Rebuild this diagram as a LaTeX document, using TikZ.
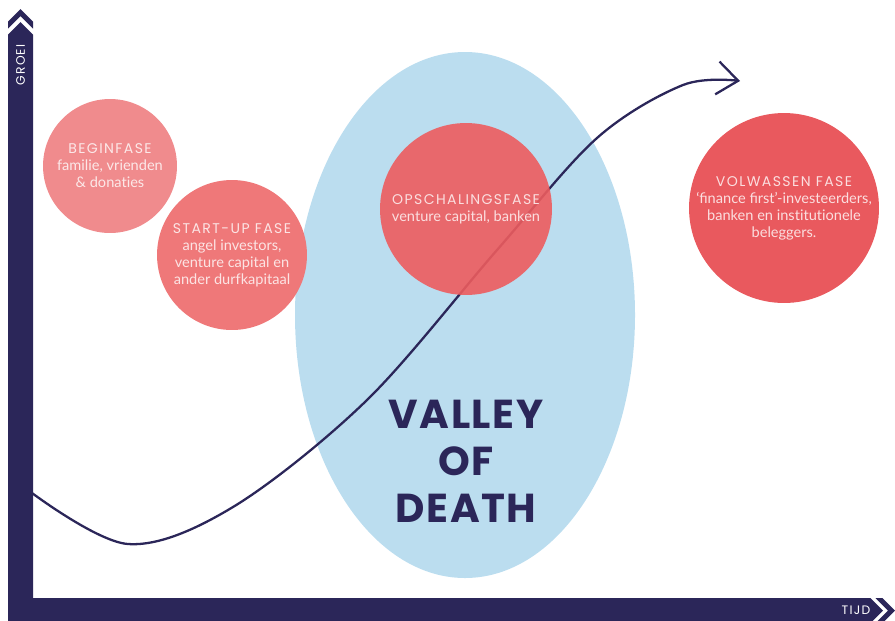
\documentclass[tikz,border=0pt]{standalone}
\usepackage{fontspec}
\setmainfont[Ligatures=NoCommon]{Lato}
\newfontfamily\capsfont[LetterSpace=10]{Poppins}
\newfontfamily\valleyfont[LetterSpace=4]{Poppins}
\usepackage{tikz}
\usetikzlibrary{arrows.meta, positioning}

\definecolor{navy}{RGB}{43,38,89}
\definecolor{valleyblue}{RGB}{187,221,239}
\definecolor{beginpink}{RGB}{240,139,141}
\definecolor{startpink}{RGB}{239,120,121}
\definecolor{scalered}{RGB}{237,92,94}
\definecolor{maturered}{RGB}{233,89,94}

\newcommand\phasetitle[1]{{\capsfont\fontsize{8}{9.7}\selectfont #1}}

\begin{document}
\begin{tikzpicture}[x=0.02cm, y=-0.02cm,
    phase/.style={circle, inner sep=0pt, align=center, fill=#1, text=white!80!#1,
      font=\fontsize{8.3}{9.7}\selectfont},
    axislabel/.style={text=white, font=\capsfont\fontsize{7}{8}\selectfont},
    growth/.style={navy, line width=1.3pt, -{Straight Barb[length=0.42cm, width=0.66cm]}}]
    \useasboundingbox (0,0) rectangle (895,620);
    \clip (0,0) rectangle (895,620);

    % Valley of death
    \fill[valleyblue] (465,315) ellipse [x radius=170, y radius=263];
    \node[text=navy, align=center, font=\valleyfont\bfseries\fontsize{23}{26.7}\selectfont]
      (valley) at (466,461) {VALLEY\\OF\\DEATH};

    % Early phases
    \node[phase=beginpink, minimum size=2.68cm] (begin) at (110,166)
      {\phasetitle{BEGINFASE}\\familie, vrienden\\\& donaties};
    \node[phase=startpink, minimum size=3cm] (startup) at (232,255)
      {\phasetitle{START-UP FASE}\\angel investors,\\venture capital en\\ander durfkapitaal};

    % Growth curve
    \coordinate (c0) at (32,493);
    \coordinate (c7) at (740,81);
    \draw[growth] plot[smooth, tension=0.55] coordinates
      {(c0) (128,544) (233,507) (367,400) (497,250) (597,138) (683,85) (c7)};

    % Later phases
    \node[phase=scalered, fill opacity=0.9, text opacity=1, minimum size=3.44cm] (scaleup) at (466,209)
      {\phasetitle{OPSCHALINGSFASE}\\venture capital, banken};
    \node[phase=maturered, minimum size=3.8cm] (mature) at (784,208)
      {\phasetitle{VOLWASSEN FASE}\\‘ﬁnance ﬁrst’-investeerders,\\banken en institutionele\\beleggers.};

    % Axes
    \fill[navy] (8,623) -- (8,34.5) -- (20.5,22) -- (33,34.5) -- (33,598)
      -- (870.5,598) -- (883,610.5) -- (870.5,623) -- cycle;
    \fill[navy] (8,21.5) -- (20.5,9) -- (33,21.5) -- (33,28.5) -- (20.5,16) -- (8,28.5) -- cycle;
    \fill[navy] (882.5,598) -- (895,610.5) -- (882.5,623) -- (875.5,623) -- (888,610.5) -- (875.5,598) -- cycle;
    \node[axislabel, rotate=90] (groei) at (20.5,65) {GROEI};
    \node[axislabel] (tijd) at (856,610) {TIJD};
\end{tikzpicture}
\end{document}
